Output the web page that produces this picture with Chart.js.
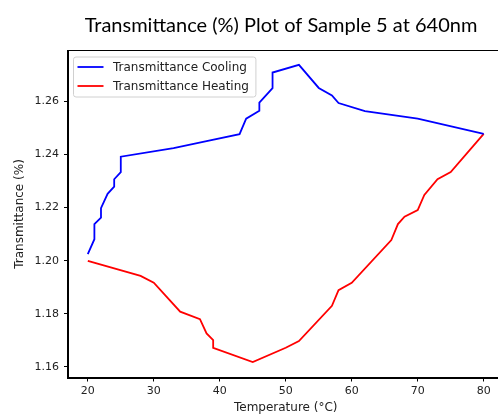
<!DOCTYPE html>
<html>
<head>
<meta charset="utf-8">
<script src="https://cdn.jsdelivr.net/npm/chart.js@4"></script>
<style>
  html, body { margin: 0; padding: 0; background: #fff; overflow: hidden; }
  #wrap { width: 506px; height: 418px; }
</style>
</head>
<body>
<div id="wrap"><canvas id="grafico" width="506" height="418"></canvas></div>
<script>
// cooling run, 80 -> 20 °C
const tempCooling = [80, 70, 62, 58, 57, 55, 52, 48, 48, 46, 46, 44, 43, 38, 33, 25, 25, 24, 24, 23, 22, 22, 21, 21, 20];
const transCooling = [1.2478, 1.2535, 1.2564, 1.2594, 1.2623, 1.2651, 1.2738, 1.2709, 1.2650, 1.2596, 1.2565, 1.2535, 1.2477,
  1.2451, 1.2424, 1.2392, 1.2334, 1.2307, 1.2279, 1.2252, 1.2198, 1.2162, 1.2138, 1.2081, 1.2025];

// heating run, 20 -> 80 °C
const tempHeating = [20, 28, 30, 34, 37, 38, 39, 39, 45, 50, 52, 57, 58, 60, 66, 67, 68, 70, 71, 73, 75, 80];
const transHeating = [1.1999, 1.1943, 1.1917, 1.1808, 1.1780, 1.1726, 1.1701, 1.1672, 1.1618, 1.1672, 1.1697, 1.1830,
  1.1889, 1.1917, 1.2078, 1.2138, 1.2166, 1.2191, 1.2248, 1.2307, 1.2334, 1.2478];

const xTicks = [20, 30, 40, 50, 60, 70, 80];
const yTicks = [1.16, 1.18, 1.20, 1.22, 1.24, 1.26];

const titulo = "Transmittance (%) Plot of Sample 5 at 640nm";

const tickFont = { family: "DejaVu Sans", size: 11 };
const labelFont = { family: "DejaVu Sans", size: 12 };

function pares(xs, ys) {
  return xs.map((x, i) => ({ x: x, y: ys[i] }));
}

// box around the plot area (matplotlib-style spines)
const moldura = {
  id: "moldura",
  afterDraw(chart) {
    const { ctx, chartArea: a } = chart;
    ctx.save();
    ctx.strokeStyle = "#000";
    ctx.lineWidth = 1;
    ctx.strokeRect(Math.round(a.left) - 0.5, Math.round(a.top) - 0.5, Math.round(a.right - a.left) + 1, Math.round(a.bottom - a.top) + 1);
    ctx.restore();
  },
};

const tituloPlugin = {
  id: "tituloPlugin",
  afterDraw(chart) {
    const ctx = chart.ctx;
    ctx.save();
    ctx.font = "20px Lato";
    ctx.fillStyle = "#000";
    ctx.textAlign = "center";
    ctx.textBaseline = "alphabetic";
    ctx.fillText(titulo, 281, 31.5);
    ctx.restore();
  },
};

// legend in the upper left corner of the plot
const legenda = {
  id: "legenda",
  afterDraw(chart) {
    const ctx = chart.ctx;
    const a = chart.chartArea;
    const sets = chart.data.datasets;
    ctx.save();
    ctx.font = "12px 'DejaVu Sans'";
    let maxW = 0;
    for (const ds of sets) maxW = Math.max(maxW, ctx.measureText(ds.label).width);
    const x0 = a.left + 5.5;
    const y0 = a.top + 6.5;
    const w = 39.5 + maxW + 7;
    const h = 40;
    ctx.beginPath();
    ctx.roundRect(x0, y0, w, h, 2.5);
    ctx.fillStyle = "rgba(255,255,255,0.8)";
    ctx.fill();
    ctx.strokeStyle = "#d0d0d0";
    ctx.lineWidth = 1;
    ctx.stroke();
    sets.forEach((ds, i) => {
      const y = y0 + 10 + i * 19;
      ctx.beginPath();
      ctx.moveTo(x0 + 4, y);
      ctx.lineTo(x0 + 30, y);
      ctx.strokeStyle = ds.borderColor;
      ctx.lineWidth = 1.8;
      ctx.stroke();
      ctx.fillStyle = "#222";
      ctx.textAlign = "left";
      ctx.textBaseline = "middle";
      ctx.fillText(ds.label, x0 + 39.5, y + 0.5);
    });
    ctx.restore();
  },
};

new Chart(document.getElementById("grafico"), {
  type: "scatter",
  data: {
    datasets: [
      {
        label: "Transmittance Cooling",
        data: pares(tempCooling, transCooling),
        showLine: true,
        borderColor: "#0000ff",
        backgroundColor: "#0000ff",
        borderWidth: 1.8,
        pointRadius: 0,
        tension: 0,
      },
      {
        label: "Transmittance Heating",
        data: pares(tempHeating, transHeating),
        showLine: true,
        borderColor: "#ff0000",
        backgroundColor: "#ff0000",
        borderWidth: 1.8,
        pointRadius: 0,
        tension: 0,
      },
    ],
  },
  options: {
    responsive: false,
    animation: false,
    layout: { padding: { top: 50.5, left: 0, right: 2.5, bottom: 0 } },
    plugins: {
      legend: { display: false },
      title: { display: false },
      tooltip: { enabled: false },
    },
    scales: {
      x: {
        type: "linear",
        min: 17,
        max: 83,
        afterFit: (scale) => {
          scale.height = 40.5;
        },
        afterBuildTicks: (scale) => {
          scale.ticks = xTicks.map((v) => ({ value: v }));
        },
        grid: { drawOnChartArea: false, drawTicks: true, tickLength: 4, color: "#000" },
        border: { display: true, color: "#000", width: 1 },
        ticks: { font: tickFont, color: "#222", padding: 3.5, maxRotation: 0 },
        title: {
          display: true,
          text: "Temperature (°C)",
          font: labelFont,
          color: "#222",
          padding: { top: 0, bottom: 2.5 },
        },
      },
      y: {
        type: "linear",
        min: 1.1560,
        max: 1.2792,
        afterFit: (scale) => {
          scale.width = 68;
        },
        afterBuildTicks: (scale) => {
          scale.ticks = yTicks.map((v) => ({ value: v }));
        },
        grid: { drawOnChartArea: false, drawTicks: true, tickLength: 4, color: "#000" },
        border: { display: true, color: "#000", width: 1 },
        ticks: {
          font: tickFont,
          color: "#222",
          padding: 5,
          callback: (v) => v.toFixed(2),
        },
        title: {
          display: true,
          text: "Transmittance (%)",
          font: labelFont,
          color: "#222",
          padding: { top: 12.8, bottom: 0 },
        },
      },
    },
  },
  plugins: [moldura, tituloPlugin, legenda],
});
</script>
</body>
</html>
